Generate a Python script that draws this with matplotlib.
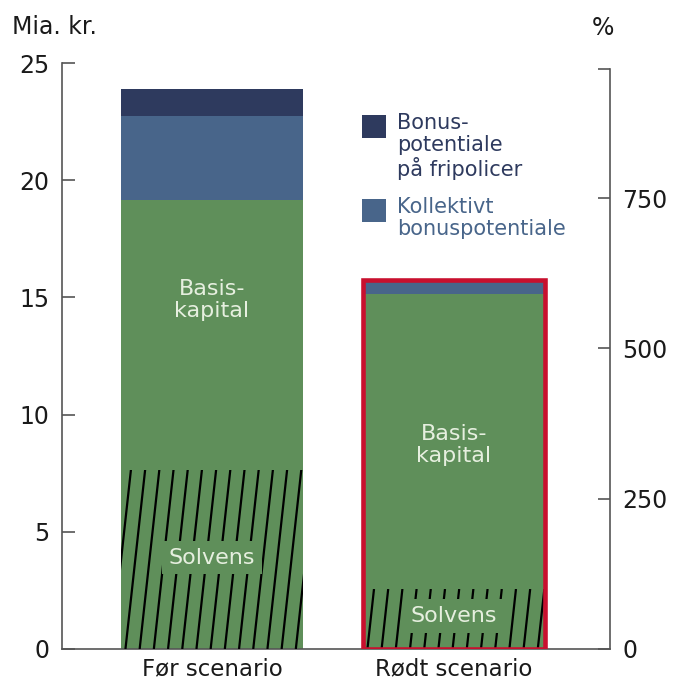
import numpy as np
import matplotlib
matplotlib.use("Agg")
from matplotlib import pyplot as plt
from matplotlib.patches import Rectangle

plt.rcParams['font.family'] = ['DejaVu Sans']

# data (Mia. kr.)
scenarios = ['Før scenario', 'Rødt scenario']
basis = [19.15, 15.15]          # green, total basiskapital
kollektivt = [3.6, 0.58]        # medium blue
fripolicer = [1.13, 0.0]        # navy
solvens = [7.65, 2.56]          # hatched part of the green
inner_label_y = [14.9, 8.7]
solvens_label_y = [3.9, 1.4]

green = '#5f8f5a'
blue = '#48658a'
navy = '#2e3a5e'
red = '#c8102e'
axis_col = '#555555'
txt_col = '#1a1a1a'
light = '#e6efdf'

fig = plt.figure(figsize=(6.73, 6.82), dpi=100)
ax = fig.add_axes([0.0921, 0.0484, 0.8143, 0.8592])
ax2 = ax.twinx()

x = np.arange(len(scenarios))
width = 0.75
ax.bar(x, basis, width, color=green, zorder=2)
ax.bar(x, kollektivt, width, bottom=basis, color=blue, zorder=2)
tops = [b + k for b, k in zip(basis, kollektivt)]
ax.bar(x, fripolicer, width, bottom=tops, color=navy, zorder=2)

# red frame round the red scenario
ax.bar(x[1], tops[1], width, facecolor='none', edgecolor=red, linewidth=3.3, zorder=4)

ax.set_xlim(-0.62, 1.645)
ax.set_ylim(0, 25)

# slanted hatching of the solvens part
px_x, px_y = 242.0, 23.4
for i, h in enumerate(solvens):
    left = x[i] - width / 2
    clip = Rectangle((left, 0), width, h, transform=ax.transData)
    dx = 0.11 * h * px_y / px_x
    starts = np.arange(left - 0.1, left + width + 0.05, 14.2 / px_x)
    for s in starts:
        ln, = ax.plot([s, s + dx], [0, h], color='black', lw=1.6, zorder=3,
                      solid_capstyle='butt')
        ln.set_clip_path(clip)

for i in range(2):
    ax.text(x[i], inner_label_y[i], 'Basis-\nkapital', ha='center', va='center',
            color=light, fontsize=16, linespacing=1.1, zorder=5)
    ax.text(x[i], solvens_label_y[i], 'Solvens', ha='center', va='center',
            color=light, fontsize=16, zorder=5,
            bbox=dict(facecolor=green, edgecolor='none', pad=5))

# legend
fig.patches.append(Rectangle((362 / 673, 1 - 138 / 682), 24 / 673, 23 / 682,
                             transform=fig.transFigure, facecolor=navy, edgecolor='none'))
fig.patches.append(Rectangle((362 / 673, 1 - 222 / 682), 24 / 673, 23 / 682,
                             transform=fig.transFigure, facecolor=blue, edgecolor='none'))
fig.text(397 / 673, 1 - 113 / 682, 'Bonus-\npotentiale\npå fripolicer', ha='left', va='top',
         color=navy, fontsize=15, linespacing=1.12)
fig.text(397 / 673, 1 - 197 / 682, 'Kollektivt\nbonuspotentiale', ha='left', va='top',
         color=blue, fontsize=15, linespacing=1.12)

# axes styling
ax.set_xticks(x)
ax.set_xticklabels(scenarios)
ax.tick_params(axis='x', length=0, pad=6, labelsize=16.5, labelcolor=txt_col)
ax.set_yticks([0, 5, 10, 15, 20, 25])
ax.tick_params(axis='y', direction='in', length=9, width=1.2, color=axis_col,
               pad=9, labelsize=17, labelcolor=txt_col)

ax2.set_ylim(0, 975)
ax2.set_yticks([0, 250, 500, 750, 965])
ax2.set_yticklabels(['0', '250', '500', '750', ''])
ax2.tick_params(axis='y', direction='in', length=9, width=1.2, color=axis_col,
                pad=9, labelsize=17, labelcolor=txt_col)

for a in (ax, ax2):
    a.spines['top'].set_visible(False)
    for s in ('left', 'right', 'bottom'):
        a.spines[s].set_color(axis_col)
        a.spines[s].set_linewidth(1.2)
ax2.spines['left'].set_visible(False)
ax.spines['right'].set_visible(False)
ax2.spines['right'].set_bounds(0, 965)
ax2.spines['bottom'].set_visible(False)

fig.text(12 / 673, 1 - 27 / 682, 'Mia. kr.', ha='left', va='center', fontsize=17, color=txt_col)
fig.text(603 / 673, 1 - 28 / 682, '%', ha='center', va='center', fontsize=17, color=txt_col)

fig.savefig('out.png', dpi=100)
